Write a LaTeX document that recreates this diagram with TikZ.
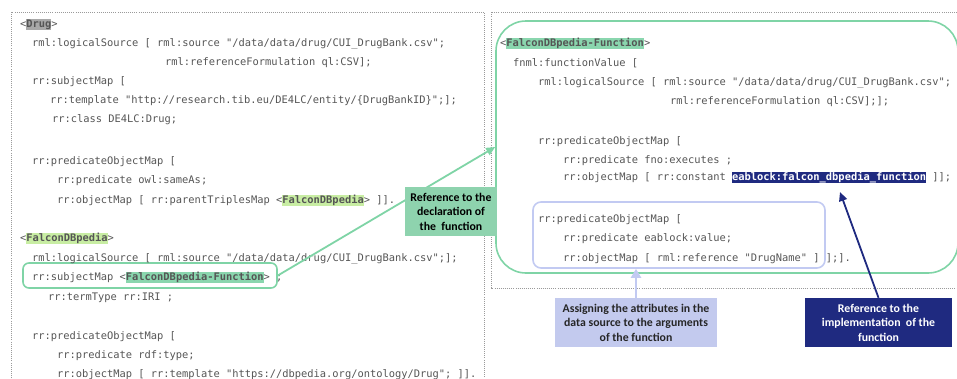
\documentclass[tikz,border=0pt]{standalone}
\usepackage{fontspec}
\setmonofont{DejaVu Sans Mono}
\newfontfamily\labfont{Carlito}
\usetikzlibrary{arrows.meta}
\definecolor{codegray}{HTML}{555555}
\definecolor{dotgray}{HTML}{9A9A9A}
\definecolor{mintline}{HTML}{7FD4A6}
\definecolor{mintfill}{HTML}{8ED3AE}
\definecolor{minthl}{HTML}{8AD6AE}
\definecolor{limehl}{HTML}{C8EDA3}
\definecolor{grayhl}{HTML}{A8A8A8}
\definecolor{navy}{HTML}{1F2A80}
\definecolor{lavline}{HTML}{C2CAF2}
\definecolor{lavfill}{HTML}{C3CAEE}
\newcommand{\hlt}[2]{{\setlength{\fboxsep}{0pt}\colorbox{#1}{\rule[-2.8bp]{0pt}{10.4bp}\textbf{#2}}}}
\newcommand{\hlw}[2]{{\setlength{\fboxsep}{0pt}\colorbox{#1}{\rule[-2.8bp]{0pt}{10.4bp}\color{white}\textbf{#2}}}}
\begin{document}
\begin{tikzpicture}[x=1bp,y=-1bp,
  code/.style={anchor=base west, inner sep=0pt, outer sep=0pt, text=codegray,
    font=\ttfamily\fontsize{10.4bp}{12bp}\selectfont},
  dotframe/.style={draw=dotgray, line width=0.8bp, dash pattern=on 0.8bp off 1.3bp},
  greenframe/.style={draw=mintline, line width=1.6bp, fill=none, inner sep=0pt},
  lavframe/.style={draw=lavline, line width=1.6bp, rounded corners=8bp, inner sep=0pt},
  labelbox/.style={inner sep=0pt, align=center, font=\labfont\bfseries\fontsize{11.8bp}{14.5bp}\selectfont},
  greenarrow/.style={draw=mintline, line width=1.8bp, -{Triangle[length=9bp,width=8bp]}},
  navyarrow/.style={draw=navy, line width=1.8bp, -{Triangle[length=9bp,width=8bp]}},
  lavarrow/.style={draw=lavline, line width=2.8bp, -{Triangle[length=9bp,width=10bp]}},
]
\useasboundingbox (0,0) rectangle (957,378);
% dotted frames
\draw[dotframe] (11,378) -- (11,12) -- (484,12) -- (484,378);
\draw[dotframe] (957,12) -- (491,12) -- (491,288) -- (957,288);
% frames
\node[greenframe, rounded corners=30bp, minimum width=462bp, minimum height=252bp] (bigbox) at (727,147) {};
\node[lavframe, minimum width=292bp, minimum height=66bp] (lavbox) at (679,235) {};
\node[greenframe, rounded corners=6bp, minimum width=254bp, minimum height=25bp] (subbox) at (150,275.5) {};
% left code
\node[code] (l0) at (20,27) {<\hlt{grayhl}{Drug}>};
\node[code] (l1) at (32,46) {rml:logicalSource [ rml:source "/data/data/drug/CUI\_DrugBank.csv";};
\node[code] (l2) at (165,65) {rml:referenceFormulation ql:CSV];};
\node[code] (l3) at (32,84) {rr:subjectMap [};
\node[code] (l4) at (50,103) {rr:template "http://research.tib.eu/DE4LC/entity/\{DrugBankID\}";];};
\node[code] (l5) at (52,122) {rr:class DE4LC:Drug;};
\node[code] (l7) at (32,164) {rr:predicateObjectMap [};
\node[code] (l8) at (57,183) {rr:predicate owl:sameAs;};
\node[code] (l9) at (57,203) {rr:objectMap [ rr:parentTriplesMap <\hlt{limehl}{FalconDBpedia}> ]].};
\node[code] (l11) at (20,241) {<\hlt{limehl}{FalconDBpedia}>};
\node[code] (l12) at (32,261) {rml:logicalSource [ rml:source "/data/data/drug/CUI\_DrugBank.csv";];};
\node[code] (l13) at (32,280) {rr:subjectMap <\hlt{minthl}{FalconDBpedia-Function}> ;};
\node[code] (l14) at (48,300) {rr:termType rr:IRI ;};
\node[code] (l16) at (32,339) {rr:predicateObjectMap [};
\node[code] (l17) at (57,358) {rr:predicate rdf:type;};
\node[code] (l18) at (57,377) {rr:objectMap [ rr:template "https://dbpedia.org/ontology/Drug"; ]].};
% right code
\node[code] (r0) at (500,46) {<\hlt{minthl}{FalconDBpedia-Function}>};
\node[code] (r1) at (513,66) {fnml:functionValue [};
\node[code] (r2) at (538,85) {rml:logicalSource [ rml:source "/data/data/drug/CUI\_DrugBank.csv";};
\node[code] (r3) at (670,104) {rml:referenceFormulation ql:CSV];];};
\node[code] (r5) at (538,144) {rr:predicateObjectMap [};
\node[code] (r6) at (563,163) {rr:predicate fno:executes ;};
\node[code] (r7) at (563,180) {rr:objectMap [ rr:constant \hlw{navy}{eablock:falcon\_dbpedia\_function} ]];};
\node[code] (r9) at (538,222) {rr:predicateObjectMap [};
\node[code] (r10) at (563,241) {rr:predicate eablock:value;};
\node[code] (r11) at (563,261) {rr:objectMap [ rml:reference "DrugName" ] ];].};
\coordinate (navytip) at (840,192);
% arrows
\draw[greenarrow] (subbox.east) -- (bigbox.west);
% labels
\node[labelbox, fill=mintfill, text=black, minimum width=92bp, minimum height=49bp] (lgreen) at (451,211.5) {Reference to the\\declaration of\\the\ \ function};
\node[labelbox, fill=lavfill, text=black!85, minimum width=162bp, minimum height=49bp] (llav) at (636,322.5) {Assigning the attributes in the\\data source to the arguments\\of the function};
\node[labelbox, fill=navy, text=white, minimum width=147bp, minimum height=49bp] (lnavy) at (878.5,322.5) {Reference to the\\implementation\ \ of the\\function};
\draw[lavarrow] (llav.north) -- (llav.north |- lavbox.south);
\draw[navyarrow] (lnavy.north) -- (navytip);
\end{tikzpicture}
\end{document}
